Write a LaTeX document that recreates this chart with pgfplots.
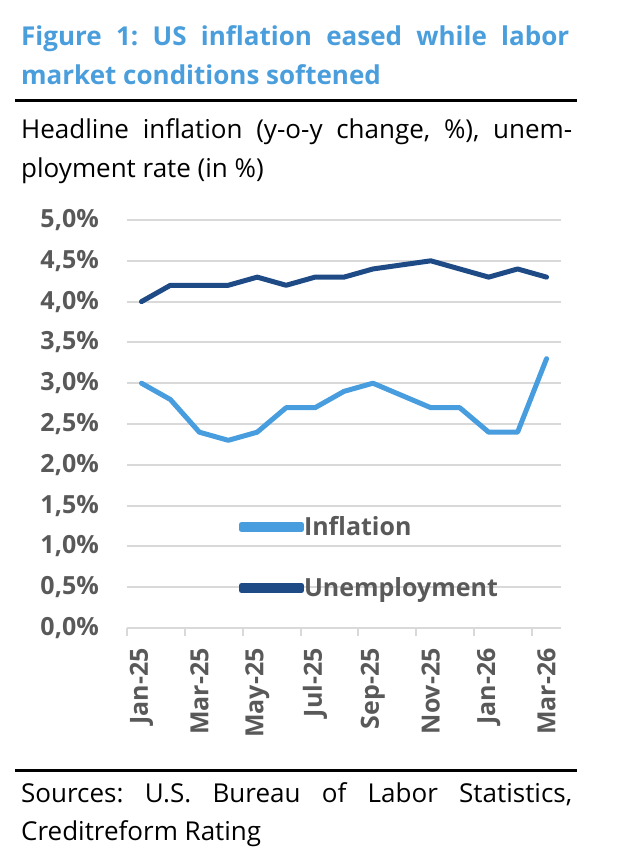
\documentclass[border=0pt]{standalone}
\usepackage{pgfplots}
\pgfplotsset{compat=1.18}
\usepackage{fontspec}
\setmainfont{Open Sans}
\definecolor{titleblue}{HTML}{4A9EDC}
\definecolor{infl}{HTML}{479DDE}
\definecolor{unemp}{HTML}{1E4B85}
\definecolor{tickgray}{HTML}{595959}
\definecolor{gridgray}{HTML}{D9D9D9}
\hbadness=10000
\frenchspacing
\begin{document}
\begin{tikzpicture}[x=1pt,y=1pt]
\path[use as bounding box] (0,0) rectangle (624,-862);
\node[anchor=base west, inner sep=0pt, text=titleblue, font=\fontsize{26}{30}\selectfont\bfseries] at (21,-45) {\hbox to 548pt{Figure 1: US inflation eased while labor}};
\node[anchor=base west, inner sep=0pt, text=titleblue, font=\fontsize{26}{30}\selectfont\bfseries] at (21,-84) {market conditions softened};
\draw[line width=3pt] (15,-100) -- (577,-100);
\node[anchor=base west, inner sep=0pt, font=\fontsize{26}{30}\selectfont] at (21,-138) {\hbox to 551pt{Headline inflation (y-o-y change, \%), unem-}};
\node[anchor=base west, inner sep=0pt, font=\fontsize{26}{30}\selectfont] at (21,-177) {ployment rate (in \%)};
\draw[line width=3pt] (15,-770) -- (577,-770);
\node[anchor=base west, inner sep=0pt, font=\fontsize{26}{30}\selectfont] at (21,-802) {\hbox to 551pt{Sources: U.S. Bureau of Labor Statistics,}};
\node[anchor=base west, inner sep=0pt, font=\fontsize{26}{30}\selectfont] at (21,-840) {Creditreform Rating};
\begin{axis}[
  at={(127pt,-628pt)}, anchor=south west,
  scale only axis, width=434pt, height=408pt,
  xmin=-0.5, xmax=14.5, ymin=0, ymax=5,
  axis line style={draw=none},
  ymajorgrids, major grid style={draw=gridgray, line width=2pt},
  tick align=outside, major tick length=0pt,
  xtick={0,2,...,14},
  xticklabels={Jan-25,Mar-25,May-25,Jul-25,Sep-25,Nov-25,Jan-26,Mar-26},
  minor xtick={-0.5,1.5,3.5,5.5,7.5,9.5,11.5,13.5},
  minor tick length=8pt,
  minor tick style={draw=gridgray, line width=2pt},
  xtick pos=bottom, ytick pos=left,
  ytick={0,0.5,...,5},
  yticklabels={{0,0\%},{0,5\%},{1,0\%},{1,5\%},{2,0\%},{2,5\%},{3,0\%},{3,5\%},{4,0\%},{4,5\%},{5,0\%}},
  tick label style={font=\fontsize{25}{30}\selectfont\bfseries, text=tickgray, inner sep=0pt},
  major tick style={draw=none},
  yticklabel style={anchor=east, xshift=-28pt},
  xticklabel style={yshift=-20pt, rotate=90, anchor=east},
  clip=false,
  legend cell align=left,
  legend style={at={(axis cs:3.371,1.385)}, anchor=north west, draw=none, fill=none,
    inner sep=0pt, outer sep=0pt, row sep=37pt, column sep=0pt,
    font=\fontsize{25}{30}\selectfont\bfseries, text=tickgray,
    nodes={inner sep=0pt, text height=21pt, text depth=3pt}},
  legend image code/.code={\path (0pt,-2.5pt) rectangle (60pt,2.5pt); \draw[#1] (2.5pt,0pt) -- (57.5pt,0pt);},
  every axis plot/.append style={line width=5pt, line cap=round, line join=round},
]
\addplot[infl] coordinates {(0,3.0) (1,2.8) (2,2.4) (3,2.3) (4,2.4) (5,2.7) (6,2.7) (7,2.9) (8,3.0) (9,2.85) (10,2.7) (11,2.7) (12,2.4) (13,2.4) (14,3.3)};
\addlegendentry{Inflation}
\addplot[unemp] coordinates {(0,4.0) (1,4.2) (2,4.2) (3,4.2) (4,4.3) (5,4.2) (6,4.3) (7,4.3) (8,4.4) (9,4.45) (10,4.5) (11,4.4) (12,4.3) (13,4.4) (14,4.3)};
\addlegendentry{Unemployment}
\end{axis}
\end{tikzpicture}
\end{document}
